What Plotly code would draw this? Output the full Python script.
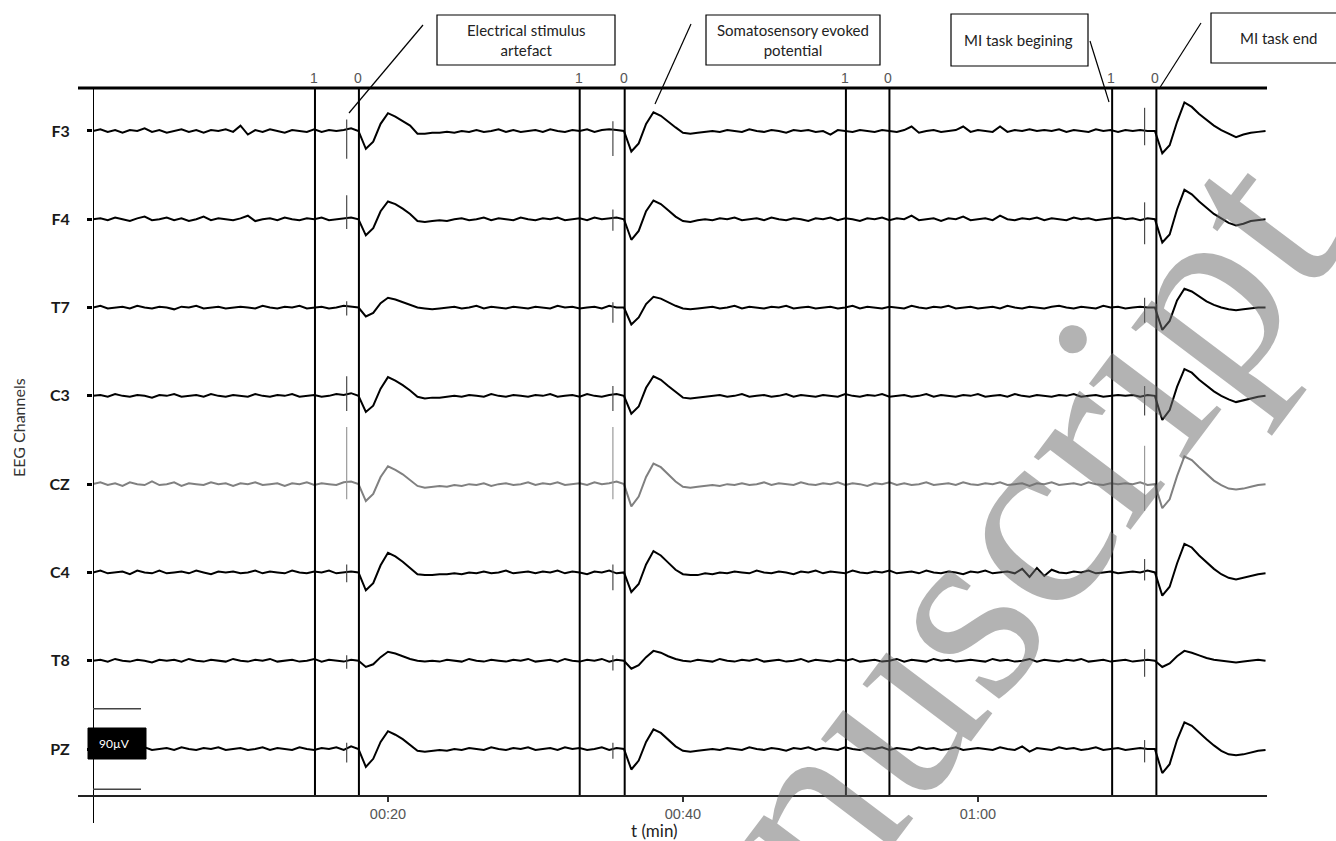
import plotly.graph_objects as go

# ---------------- data ----------------
channels = ["F3", "F4", "T7", "C3", "CZ", "C4", "T8", "PZ"]
channel_offsets_uV = [693, 594, 495, 396, 297, 198, 99, 0]
channel_colors = ["#000000", "#000000", "#000000", "#000000", "#808080", "#000000", "#000000", "#000000"]
sample_step_s = 0.5

F3 = [0, 2, -1, 1, -2, 1, 0, 3, -1, 1, -2, 0, 2, -1, 1, -2, 1, 0, 2, -1,
      6, -4, 1, -1, 2, 0, -2, 1, 0, -1, 2, -1, 1, 0, 1, 3, 0, -20, -12, 8,
      20, 16, 11, 6, -3, -3, -2, -2, -1, -2, 0, -1, 1, -1, 0, 2, -1, 1, -1, 0,
      1, -1, 2, 0, -1, 1, 0, 2, -1, 1, 2, 1, 0, -23, -14, 8, 21, 17, 10, 4,
      -2, -3, -2, -1, 0, -1, 1, 0, -1, 2, 0, -1, 1, 0, -2, 1, 0, 1, -1, 0,
      -4, 1, 0, -1, 1, 0, -1, 1, 0, -1, 1, 5, -2, 0, 1, -1, 0, 1, 5, -1,
      1, 0, -1, 5, -1, 1, 0, 2, 0, 1, 0, 2, -1, 1, 0, -1, 2, 0, 1, -1,
      1, 0, 1, 0, 0, -25, -16, 10, 32, 27, 19, 12, 6, 1, -3, -7, -4, -2, -1, 0]

F4 = [0, 1, -1, 2, 0, -2, 1, 3, -1, 0, 2, -1, 1, -2, 0, 3, -1, 1, 0, -1,
      1, 4, -2, 0, 1, -1, 2, 0, -1, 1, 0, 2, -1, 0, 1, 2, 0, -18, -10, 9,
      20, 17, 12, 6, -2, -3, -2, -1, -2, 0, 1, -1, 0, 2, -1, 1, 0, -1, 2, 0,
      -1, 1, 0, 2, -1, 0, 1, -1, 2, 0, 1, 2, 0, -23, -13, 9, 21, 17, 10, 3,
      -2, -3, -1, 0, -1, 1, 0, 2, -1, 0, 1, -1, 2, 0, -1, 1, 0, -2, 1, 0,
      2, -1, 1, 0, -2, 1, 0, 2, -1, 1, 0, 4, -1, 0, 1, -2, 1, 0, 3, -1,
      0, 1, -1, 4, 0, -1, 1, 0, 2, -1, 1, 0, -1, 2, 0, 1, -1, 0, 1, 2,
      0, 1, -1, 1, 0, -26, -17, 11, 33, 28, 20, 13, 6, 1, -4, -7, -5, -2, -1, 0]

T7 = [0, 2, -1, 0, 1, -1, 2, 0, -1, 1, 0, -2, 1, 0, 2, -1, 0, 1, -1, 0,
      1, 0, -1, 2, 0, -1, 1, 0, 2, -1, 0, 1, -1, 0, 2, 1, 0, -10, -6, 5,
      11, 9, 6, 3, 0, -1, -2, -1, 0, 1, -1, 0, 2, -1, 1, 0, -1, 1, 0, -1,
      1, 0, -1, 2, 0, 1, -1, 0, 1, -1, 2, 0, 0, -19, -11, 4, 12, 10, 6, 2,
      -1, -2, -1, 0, 1, -1, 0, 2, -1, 1, 0, -1, 1, 0, 2, -1, 0, 1, -1, 0,
      1, -1, 0, 2, -1, 1, 0, -1, 1, 0, -1, 2, 0, -1, 1, 0, 2, -1, 0, 1,
      -1, 0, 1, -1, 2, 0, -1, 1, 0, -1, 1, 2, 0, -1, 1, 0, -1, 2, 0, 1,
      -1, 0, 1, 0, 0, -25, -15, 8, 21, 18, 12, 7, 3, 0, -2, -3, -2, -1, 0, 0]

C3 = [0, 1, -1, 2, 0, -1, 1, 0, -2, 1, 0, 2, -1, 0, 1, -1, 2, 0, -1, 1,
      0, -1, 2, 0, -1, 1, 0, 2, -1, 0, 1, -1, 0, 2, 1, 3, 0, -18, -11, 8,
      21, 17, 12, 6, -1, -3, -2, -2, -1, 0, -1, 1, 0, -1, 2, 0, -1, 1, 0, -1,
      1, 0, 2, -1, 0, 1, -1, 2, 0, -1, 1, 2, 0, -20, -12, 9, 22, 18, 11, 4,
      -2, -3, -2, -1, 0, 1, -1, 0, 2, -1, 0, 1, -1, 0, 2, -1, 1, 0, -1, 1,
      0, -1, 2, 0, -1, 1, 0, 2, -1, 0, 1, -1, 0, 2, -1, 1, 0, -1, 1, 0,
      2, -1, 0, 1, -1, 2, 0, -1, 1, 0, -1, 1, 0, 2, -1, 0, 1, -1, 0, 1,
      0, 1, -1, 1, 0, -27, -16, 10, 30, 26, 18, 11, 5, 0, -4, -7, -5, -3, -1, 0]

CZ = [0, 2, -1, 1, -2, 2, 0, -1, 3, -1, 0, 2, -2, 1, 0, -1, 2, 0, 1, -2,
      1, 0, 2, -1, 0, 1, -2, 1, 0, 2, -1, 1, 0, -1, 2, 3, 0, -19, -11, 8,
      20, 16, 11, 5, -2, -4, -3, -2, -3, -1, -2, 0, -1, 1, -2, 0, 1, -1, 0, 2,
      -1, 1, 0, 2, -1, 0, 1, -1, 2, 0, 1, 3, 0, -25, -14, 8, 23, 19, 11, 3,
      -3, -4, -3, -2, -1, -2, 0, -1, 1, -1, 0, 2, -1, 1, 0, -1, 2, 0, -1, 1,
      0, 2, -1, 1, 0, -2, 1, 0, 2, -1, 1, -1, 0, 2, -1, 0, 1, -1, 2, 0,
      -1, 1, 0, 2, -1, 0, 1, -2, 1, 0, 2, -1, 0, 1, -1, 2, 0, -1, 1, 0,
      1, 0, 2, -1, 0, -27, -17, 9, 31, 27, 19, 11, 4, -1, -5, -6, -5, -3, -1, 0]

C4 = [0, 2, -1, 0, 1, -2, 2, 0, -1, 2, -1, 0, 1, -1, 2, 0, -2, 1, 0, 1,
      -1, 0, 2, -1, 1, 0, -1, 2, 0, -1, 1, 0, 2, -1, 0, 1, 0, -20, -12, 8,
      22, 18, 12, 5, -2, -3, -3, -2, -2, -1, -2, 0, -1, 1, -1, 0, 2, -1, 0, 1,
      -1, 1, 0, 2, -1, 1, 0, -2, 1, 0, 2, -1, 0, -22, -13, 9, 24, 19, 11, 3,
      -2, -3, -3, -1, -2, 0, -1, 1, 0, -1, 2, 0, -1, 1, 0, -2, 1, 0, 2, -1,
      1, 0, -1, 2, 0, -1, 1, 0, 2, -1, 0, 1, -1, 2, 0, -1, 1, 0, -2, 1,
      0, 2, -1, 0, 1, -1, 4, -5, 5, -4, 3, 0, -1, 1, 0, 2, -1, 0, 1, -1,
      0, 1, 0, 2, 0, -26, -16, 10, 32, 28, 19, 11, 4, -2, -6, -8, -6, -4, -2, -1]

T8 = [0, 1, -1, 2, 0, -1, 1, 0, -2, 1, 0, 1, -1, 2, 0, -1, 1, 0, -1, 2,
      0, -1, 1, 0, 2, -1, 0, 1, -1, 0, 2, -1, 1, 0, -1, 1, 0, -7, -4, 4,
      10, 8, 5, 2, 0, -1, 0, -1, 1, 0, -1, 2, 0, -1, 1, 0, -1, 1, 0, 2,
      -1, 0, 1, -1, 2, 0, -1, 1, 0, 2, -1, 1, 0, -9, -5, 4, 11, 9, 5, 2,
      0, -1, 1, 0, -1, 2, 0, -1, 1, 0, 2, -1, 0, 1, -1, 0, 2, -1, 1, 0,
      -1, 1, 0, 2, -1, 0, 1, -1, 0, 2, -1, 1, 0, -1, 2, 0, 1, -1, 0, 1,
      0, -1, 2, 0, 1, -1, 0, 2, -1, 1, 0, -1, 1, 0, 2, -1, 0, 1, -1, 0,
      1, -1, 0, 1, 0, -7, -3, 5, 11, 9, 6, 3, 1, 0, -1, -2, -1, 0, 1, 0]

PZ = [0, 2, -1, 1, 0, -2, 1, 2, -1, 0, 1, -1, 2, 0, -1, 1, 0, 2, -1, 0,
      1, -1, 0, 2, -1, 1, 0, -1, 2, 0, -1, 1, 0, 2, -1, 3, 0, -20, -11, 8,
      20, 16, 11, 5, -2, -3, -2, -1, -2, 0, -1, 1, 0, -1, 2, 0, -1, 1, 0, 2,
      -1, 0, 1, -1, 2, 0, 1, -1, 0, 2, -1, 1, 0, -23, -13, 8, 22, 18, 10, 3,
      -2, -3, -2, -1, 0, -1, 1, 0, -1, 2, 0, -1, 1, 0, -2, 1, 0, 2, -1, 1,
      0, -1, 2, 0, -1, 1, 0, 2, -1, 1, 0, -1, 2, 0, 1, -1, 0, 2, -1, 0,
      1, 0, -1, 2, 0, -1, 3, -3, 1, 0, -1, 2, 0, 1, -1, 0, 2, -1, 0, 1,
      -1, 0, 1, 0, 0, -27, -17, 10, 30, 26, 18, 11, 4, -2, -6, -7, -6, -4, -2, -1]

channel_values = [F3, F4, T7, C3, CZ, C4, T8, PZ]

# stimulus artefact spikes (time in s, extent above / below baseline in uV)
artifact_times = [17.2, 35.25, 71.3]
artifact_up = [[13, 11, 26], [27, 11, 19], [7, 6, 11], [22, 11, 11],
               [64, 64, 43], [9, 9, 15], [6, 6, 13], [7, 7, 10]]
artifact_down = [[31, 28, 16], [11, 13, 28], [9, 17, 17], [17, 17, 22],
                 [17, 17, 30], [11, 20, 9], [9, 11, 18], [15, 11, 15]]

# task markers
marker_times = [15.05, 18.03, 33.0, 36.05, 51.05, 54.0, 69.1, 72.1]
marker_labels = ["1", "0", "1", "0", "1", "0", "1", "0"]

x_tick_vals = [20, 40, 60]
x_tick_text = ["00:20", "00:40", "01:00"]
scale_uV = 90

callouts = ["Electrical stimulus<br>artefact", "Somatosensory evoked<br>potential",
            "MI task begining", "MI task end"]

# ---------------- layout helpers (pixel -> paper) ----------------
W, H = 1336, 841
L, R, T, B = 93, 69, 88, 45
PW, PH = W - L - R, H - T - B


def px(x):
    return (x - L) / PW


def py(y):
    return (H - B - y) / PH


fig = go.Figure()

for name, off, col, vals in zip(channels, channel_offsets_uV, channel_colors, channel_values):
    fig.add_trace(go.Scatter(
        x=[i * sample_step_s for i in range(len(vals))],
        y=[off + v for v in vals],
        mode="lines", line=dict(color=col, width=2),
        showlegend=False, hoverinfo="skip", name=name))

for k, (name, off) in enumerate(zip(channels, channel_offsets_uV)):
    xs, ys = [], []
    for j, t in enumerate(artifact_times):
        xs += [t, t, None]
        ys += [off + artifact_up[k][j], off - artifact_down[k][j], None]
    fig.add_trace(go.Scatter(
        x=xs, y=ys, mode="lines",
        line=dict(color="#9a9a9a" if name == "CZ" else "#4a4a4a", width=1.2),
        showlegend=False, hoverinfo="skip"))

shapes = []
for t in marker_times:
    shapes.append(dict(type="line", xref="x", yref="paper", x0=t, x1=t, y0=0, y1=1,
                       line=dict(color="black", width=2)))
# left vertical axis line (extends below bottom line)
shapes.append(dict(type="line", xref="x", yref="paper", x0=0, x1=0, y0=py(823), y1=1,
                   line=dict(color="black", width=2)))
# top and bottom horizontal lines
shapes.append(dict(type="line", xref="paper", yref="paper", x0=px(78), x1=1, y0=1, y1=1,
                   line=dict(color="black", width=3)))
shapes.append(dict(type="line", xref="paper", yref="paper", x0=px(78), x1=1, y0=0, y1=0,
                   line=dict(color="#222222", width=2)))

# callout boxes
boxes = [(437, 15, 615, 65), (706, 15, 880, 65), (951, 14, 1088, 66), (1211, 13, 1345, 63)]
for (x0, y0, x1, y1) in boxes:
    shapes.append(dict(type="rect", xref="paper", yref="paper",
                       x0=px(x0), x1=px(x1), y0=py(y1), y1=py(y0),
                       line=dict(color="black", width=1.2), fillcolor="white"))
leaders = [(349, 113, 423, 25), (655, 104, 691, 24), (1090, 41, 1109, 102), (1201, 23, 1159, 89)]
for (x0, y0, x1, y1) in leaders:
    shapes.append(dict(type="line", xref="paper", yref="paper",
                       x0=px(x0), x1=px(x1), y0=py(y0), y1=py(y1),
                       line=dict(color="black", width=1.2)))

# scale bar
shapes.append(dict(type="line", xref="paper", yref="y", x0=0, x1=px(141),
                   y0=scale_uV / 2, y1=scale_uV / 2, line=dict(color="#444444", width=1.5)))
shapes.append(dict(type="line", xref="paper", yref="y", x0=0, x1=px(141),
                   y0=-scale_uV / 2, y1=-scale_uV / 2, line=dict(color="#444444", width=1.5)))
shapes.append(dict(type="rect", xref="paper", yref="paper", x0=px(88), x1=px(146),
                   y0=py(759), y1=py(728), fillcolor="black", line=dict(color="black", width=1)))


def ann(x, y, text, font, **kw):
    d = dict(xref="paper", yref="paper", x=px(x), y=py(y), text=text, showarrow=False,
             xanchor="center", yanchor="middle", font=font)
    d.update(kw)
    return d


annotations = []
# watermark
annotations.append(ann(915, 668, "Manuscript",
                       dict(family="Liberation Serif", size=264, color="rgba(110,110,110,0.52)"),
                       textangle=-53))
for t, lab in zip(marker_times, marker_labels):
    annotations.append(dict(xref="x", yref="paper", x=t, y=1, xanchor="center", yanchor="bottom",
                            text=lab, showarrow=False, xshift=-1,
                            font=dict(family="Liberation Sans", size=14, color="#555555")))
centers = [(526, 40), (793, 40), (1019, 40), (1278, 38)]
for txt, (cx, cy) in zip(callouts, centers):
    annotations.append(ann(cx, cy, txt, dict(family="Lato", size=15, color="#222222")))
annotations.append(ann(114, 743, f"{scale_uV}µV", dict(family="Lato", size=12, color="white")))
annotations.append(ann(654, 830, "t (min)", dict(family="Lato", size=17, color="#222222")))
annotations.append(ann(18, 428, "EEG Channels", dict(family="Lato", size=16, color="#333333"),
                       textangle=-90))

fig.update_layout(
    width=W, height=H, autosize=False,
    margin=dict(l=L, r=R, t=T, b=B, pad=0),
    paper_bgcolor="white", plot_bgcolor="white",
    shapes=shapes, annotations=annotations,
    xaxis=dict(range=[0, 79.6], showgrid=False, zeroline=False, showline=False,
               tickvals=x_tick_vals, ticktext=x_tick_text, ticks="outside", ticklen=5,
               tickwidth=1.5, tickcolor="#333333",
               tickfont=dict(family="Liberation Sans", size=14.5, color="#555555")),
    yaxis=dict(range=[-52.7, 741.2], showgrid=False, zeroline=False, showline=False,
               tickvals=channel_offsets_uV, ticktext=[f"<b>{c}</b>" for c in channels],
               ticks="outside", ticklen=5, tickwidth=3, tickcolor="black",
               ticklabelstandoff=14,
               tickfont=dict(family="Lato", size=16, color="#1a1a1a")),
)

fig.write_html("out.html", config={"displayModeBar": False},
               post_script="document.body.style.margin='0px';")
